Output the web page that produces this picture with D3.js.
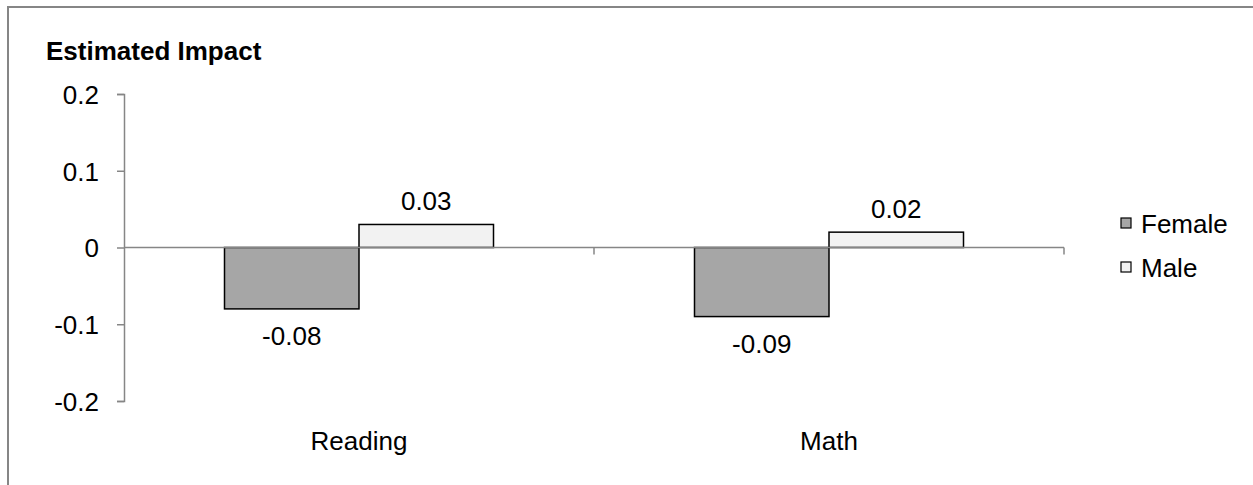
<!DOCTYPE html>
<html>
<head>
<meta charset="utf-8">
<script src="https://cdn.jsdelivr.net/npm/d3@7"></script>
<style>
  html, body { margin: 0; padding: 0; background: #fff; }
  svg { display: block; font-family: "Liberation Sans", Arial, sans-serif; }
</style>
</head>
<body>
<svg id="chart" width="1253" height="485"></svg>
<script>
// Estimated impact by subject and gender
const categories = ["Reading", "Math"];
const seriesNames = ["Female", "Male"];
const femaleValues = [-0.08, -0.09];
const maleValues = [0.03, 0.02];
const yTicks = [-0.2, -0.1, 0, 0.1, 0.2];
const yTickLabels = ["-0.2", "-0.1", "0", "0.1", "0.2"];
const seriesColors = ["#a6a6a6", "#f2f2f2"];

const svg = d3.select("#chart");
const W = 1253, H = 485;
const axisColor = "#868686";
const fontSize = 26;

// outer frame (extends past the right and bottom edges)
svg.append("rect")
  .attr("x", 8).attr("y", 7)
  .attr("width", W + 20).attr("height", H + 20)
  .attr("fill", "none").attr("stroke", axisColor).attr("stroke-width", 2);

const plot = { left: 124, right: 1064, top: 94, bottom: 401 };

const x = d3.scaleBand().domain(categories)
  .range([plot.left, plot.right]).paddingInner(0).paddingOuter(0);
const y = d3.scaleLinear().domain([-0.2, 0.2]).range([plot.bottom, plot.top]);

// bars fill 269/470 of each category slot
const groupFrac = 269 / 470;
const inner = d3.scaleBand().domain(seriesNames)
  .range([0, x.bandwidth() * groupFrac]);
const groupOffset = x.bandwidth() * (1 - groupFrac) / 2;

const rows = categories.map((c, i) => ({
  category: c,
  values: [
    { series: "Female", value: femaleValues[i] },
    { series: "Male", value: maleValues[i] }
  ]
}));

// y axis
const yAxis = d3.axisLeft(y).tickValues(yTicks)
  .tickFormat((d, i) => yTickLabels[i]).tickSize(7).tickPadding(18);
const gy = svg.append("g").attr("transform", `translate(${plot.left},0)`).call(yAxis);
gy.select(".domain").attr("stroke", axisColor).attr("stroke-width", 1.5)
  .attr("d", `M-7,${plot.top}.5H0.5V${plot.bottom}.5H-7`);
gy.selectAll(".tick line").attr("stroke", axisColor).attr("stroke-width", 1.5);
gy.selectAll(".tick text").attr("fill", "#000").attr("dy", "0.36em")
  .style("font-size", fontSize + "px").style("font-family", "Liberation Sans, Arial, sans-serif");

// bars
const groups = svg.append("g").selectAll("g").data(rows).join("g")
  .attr("transform", d => `translate(${x(d.category) + groupOffset},0)`);

groups.selectAll("rect").data(d => d.values).join("rect")
  .attr("x", d => inner(d.series))
  .attr("width", inner.bandwidth())
  .attr("y", d => y(Math.max(0, d.value)))
  .attr("height", d => Math.abs(y(d.value) - y(0)))
  .attr("fill", (d, i) => seriesColors[i])
  .attr("stroke", "#000").attr("stroke-width", 1.5);

// zero line with category tick marks
const gx = svg.append("g").attr("transform", `translate(0,${y(0)})`);
gx.append("line").attr("x1", plot.left).attr("x2", plot.right)
  .attr("stroke", axisColor).attr("stroke-width", 1.5);
const boundaries = categories.map(c => x(c) + x.bandwidth());
gx.selectAll("line.tick").data(boundaries).join("line").attr("class", "tick")
  .attr("x1", d => d).attr("x2", d => d).attr("y1", 0).attr("y2", 7)
  .attr("stroke", axisColor).attr("stroke-width", 1.5);

// value labels
groups.selectAll("text.val").data(d => d.values).join("text").attr("class", "val")
  .attr("x", d => inner(d.series) + inner.bandwidth() / 2)
  .attr("y", d => d.value >= 0 ? y(d.value) - 14 : y(d.value) + 36)
  .attr("text-anchor", "middle")
  .style("font-size", fontSize + "px")
  .text(d => d3.format(".2f")(d.value).replace("−", "-"));

// category labels
svg.append("g").selectAll("text").data(categories).join("text")
  .attr("x", d => x(d) + x.bandwidth() / 2)
  .attr("y", 450)
  .attr("text-anchor", "middle")
  .style("font-size", fontSize + "px")
  .text(d => d);

// axis title
svg.append("text").attr("x", 46).attr("y", 60)
  .style("font-size", fontSize + "px").style("font-weight", "bold")
  .text("Estimated Impact");

// legend
const legend = svg.append("g").selectAll("g").data(seriesNames).join("g")
  .attr("transform", (d, i) => `translate(1121,${218 + i * 44})`);
legend.append("rect").attr("width", 10).attr("height", 10)
  .attr("fill", (d, i) => seriesColors[i]).attr("stroke", "#000").attr("stroke-width", 1.2);
legend.append("text").attr("x", 20).attr("y", 15)
  .style("font-size", fontSize + "px").text(d => d);
</script>
</body>
</html>
